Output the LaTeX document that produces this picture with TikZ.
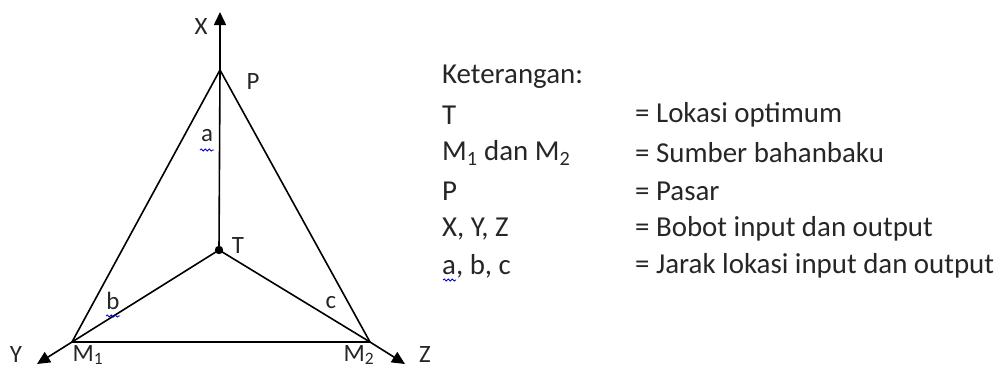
\documentclass[tikz,border=0pt]{standalone}
\usepackage{fontspec}
\setmainfont{Carlito}
\usetikzlibrary{arrows.meta,decorations.pathmorphing}
\begin{document}
\begin{tikzpicture}[x=1bp,y=-1bp,
  line/.style={line width=1.6bp,black},
  arr/.style={line,-{Triangle[length=13bp,width=12bp]}},
  lbl/.style={font=\fontsize{25}{30}\selectfont,inner sep=0pt,text=black!85},
  blbl/.style={lbl,anchor=base},
  leg/.style={font=\fontsize{29}{34}\selectfont,inner sep=0pt,anchor=west,text=black!85},
  squig/.style={draw=blue!80!black,line width=0.8bp,decorate,decoration={snake,amplitude=1.1bp,segment length=4bp}}]
\useasboundingbox (0,0) rectangle (1005,368);
% points
\coordinate (P) at (220,70);
\coordinate (T) at (219,250);
\coordinate (M1) at (72,342);
\coordinate (M2) at (370,342);
\coordinate (Xe) at (220,12);
\coordinate (Ye) at (37,364);
\coordinate (Ze) at (405,364);
% triangle
\draw[line] (P) -- (M1) -- (M2) -- cycle;
\draw[line] (T) -- (P);
\draw[line] (T) -- (M1);
\draw[line] (T) -- (M2);
\draw[arr] (P) -- (Xe);
\draw[arr] (M1) -- (Ye);
\draw[arr] (M2) -- (Ze);
\fill (T) circle (4.2bp);
% labels
\node[lbl] (lX) at (201,27) {X};
\node[lbl] (lP) at (253,82) {P};
\node[lbl] (la) at (207,136) {a};
\node[lbl] (lT) at (238,246) {T};
\node[lbl] (lb) at (113,301) {b};
\node[lbl] (lc) at (331,303) {c};
\node[blbl] (lY) at (16,362) {Y};
\node[blbl] (lM1) at (88,361) {M\textsubscript{1}};
\node[blbl] (lM2) at (359,361) {M\textsubscript{2}};
\node[blbl] (lZ) at (425,362) {Z};
\draw[squig] (200,150) -- (214,150);
\draw[squig] (106,316) -- (120,316);
% legend
\node[leg] (k0) at (442,77) {Keterangan:};
\node[leg] (k1) at (442,115) {T};
\node[leg] (k2) at (442,153) {M\textsubscript{1} dan M\textsubscript{2}};
\node[leg] (k3) at (442,191) {P};
\node[leg] (k4) at (442,229) {X, Y, Z};
\node[leg] (k5) at (442,266) {a, b, c};
\draw[squig] (443,280) -- (456,280);
\node[leg] (v1) at (635,115) {= Lokasi optimum};
\node[leg] (v2) at (635,153) {= Sumber bahanbaku};
\node[leg] (v3) at (635,191) {= Pasar};
\node[leg] (v4) at (635,229) {= Bobot input dan output};
\node[leg] (v5) at (635,266) {= Jarak lokasi input dan output};
\end{tikzpicture}
\end{document}
